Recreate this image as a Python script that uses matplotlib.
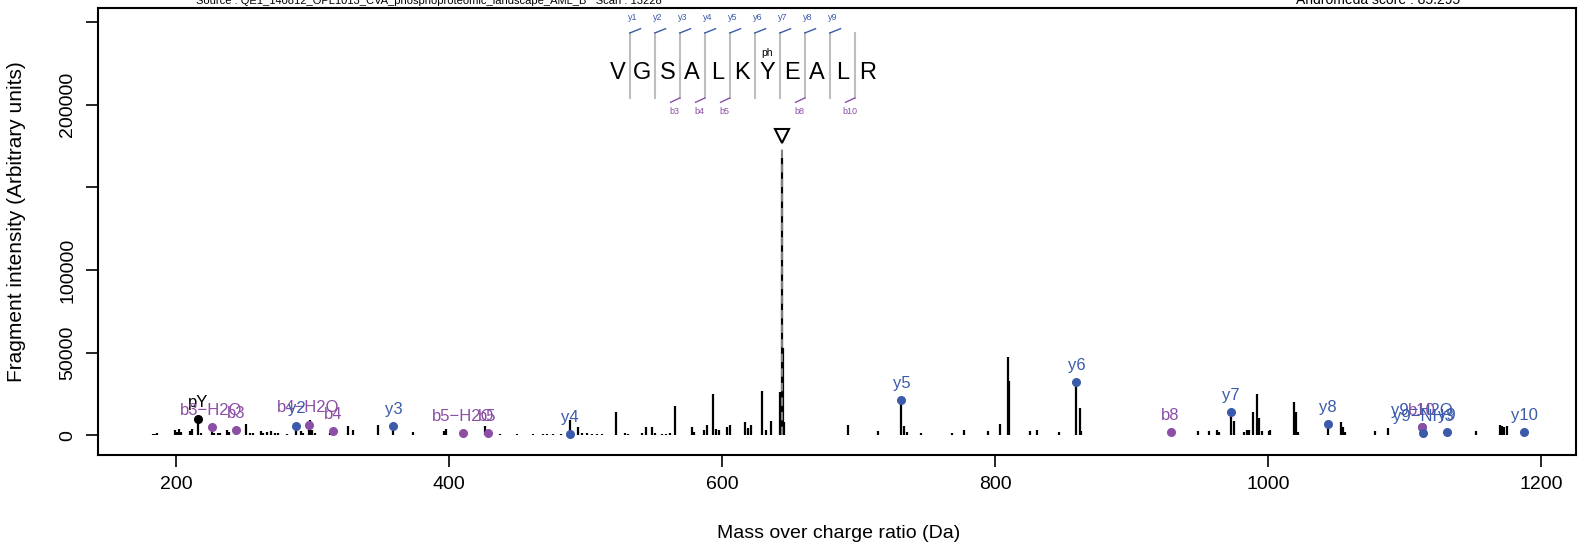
import matplotlib.pyplot as plt

plt.rcParams['font.family'] = ['Liberation Sans', 'DejaVu Sans']

# --- spectrum data (m/z, intensity) ---
peak_mz = [183.0, 184.5, 186.0, 199.5, 201.0, 202.5, 204.0, 210.0, 212.0, 218.0,
           228.0, 230.5, 232.0, 237.5, 239.0, 251.3, 254.0, 256.5, 262.0, 264.0,
           267.0, 269.5, 272.5, 275.0, 281.0, 291.5, 293.0, 298.2, 299.7, 301.5,
           313.0, 326.0, 329.5, 348.0, 373.3, 396.0, 398.0, 426.5, 429.5, 437.0,
           449.5, 461.5, 468.5, 472.0, 476.0, 482.0, 488.6, 494.5, 497.0, 501.0,
           504.5, 508.0, 512.0, 522.2, 529.0, 531.0, 541.0, 544.5, 548.5, 550.5,
           556.0, 558.5, 561.5, 565.4, 578.0, 579.5, 587.0, 589.0, 593.6, 595.5,
           597.5, 603.5, 605.7, 616.7, 619.0, 621.0, 628.9, 632.0, 635.5, 642.3,
           643.83, 644.33, 645.0, 692.0, 714.0, 733.5, 735.5, 745.4, 768.3, 776.8,
           794.4, 803.6, 809.3, 810.0, 825.7, 830.5, 846.5, 861.7, 862.5, 948.8,
           956.8, 962.2, 963.5, 974.7, 982.5, 984.0, 985.5, 989.0, 992.0, 993.0,
           995.0, 1000.3, 1001.5, 1018.8, 1020.4, 1021.5, 1053.1, 1054.6, 1056.0, 1078.4,
           1087.3, 1152.3, 1170.0, 1171.2, 1172.5, 1175.0]
peak_int = [900, 900, 1200, 3000, 2000, 3600, 2200, 2800, 4000, 1500,
            1500, 1200, 1500, 3300, 2000, 6700, 1500, 1200, 2500, 1500,
            2000, 2800, 1500, 1200, 1000, 2500, 1500, 9300, 3000, 1500,
            1500, 5700, 3000, 6300, 2000, 2500, 3600, 5700, 1500, 1000,
            1000, 1000, 800, 800, 800, 900, 9500, 5000, 1500, 1200,
            1000, 1000, 1000, 14000, 1500, 1000, 1500, 5300, 5300, 1200,
            1000, 1000, 1500, 17800, 5300, 2000, 3500, 6000, 24800, 4000,
            3500, 5000, 6000, 8400, 4500, 6500, 27000, 3500, 9000, 26000,
            167500, 53000, 8000, 6200, 2400, 5700, 2000, 1500, 1600, 3300,
            2500, 6700, 47200, 33000, 2500, 3300, 2200, 16400, 2500, 2900,
            2900, 3300, 2000, 9000, 2000, 3000, 3000, 14300, 25000, 10300,
            2500, 2500, 3000, 20000, 14000, 2000, 8300, 5000, 2000, 2400,
            4200, 2400, 6300, 5800, 5000, 5800]

# matched fragment ions
ion_labels = ['pY', 'b3−H2O', 'b3', 'b4−H2O', 'y2', 'b4', 'y3', 'b5−H2O', 'b5', 'y4',
              'y5', 'y6', 'b8', 'y7', 'y8', 'y9−H2O', 'b10', 'y9−NH3', 'y9', 'y10']
ion_mz = [216.04, 226.12, 244.13, 297.16, 288.20, 315.17, 359.24, 410.24, 428.25, 488.28,
          731.31, 859.41, 928.42, 972.49, 1043.53, 1112.55, 1112.54, 1113.53, 1130.56, 1187.58]
ion_int = [9900, 4900, 3300, 6500, 5900, 2800, 5700, 1300, 1600, 700,
           21300, 32200, 1800, 14000, 6700, 4900, 4900, 1200, 1800, 1800]
ion_type = ['imm', 'b', 'b', 'b', 'y', 'b', 'y', 'b', 'b', 'y',
            'y', 'y', 'b', 'y', 'y', 'y', 'b', 'y', 'y', 'y']

precursor_mz = 643.83
precursor_mark = 181000

sequence = ['V', 'G', 'S', 'A', 'L', 'K', 'Y', 'E', 'A', 'L', 'R']
phospho_site = 6
y_flag_after = [1, 2, 3, 4, 5, 6, 7, 8, 9]
y_flag_names = ['y1', 'y2', 'y3', 'y4', 'y5', 'y6', 'y7', 'y8', 'y9']
b_flag_after = [3, 4, 5, 8, 10]
b_flag_names = ['b3', 'b4', 'b5', 'b8', 'b10']

title_left = 'Source : QE1_140812_OPL1013_CVA_phosphoproteomic_landscape_AML_B   Scan : 13228'
title_right = 'Andromeda score : 85.295'

blue = '#3B5BAA'
purple = '#8B4FA5'
colmap = {'y': blue, 'b': purple, 'imm': 'black'}

W, H = 1578, 550
fig = plt.figure(figsize=(W / 100, H / 100), dpi=100)
ax = fig.add_axes([97.6 / W, 1 - 454.5 / H, (1576 - 97.6) / W, (454.5 - 8) / H])

ax.vlines(peak_mz, 0, peak_int, color='black', lw=1.6, zorder=2)
ax.vlines(ion_mz, 0, ion_int, color='black', lw=1.6, zorder=2)

# precursor marker
ax.vlines([precursor_mz], 0, precursor_mark - 5000, color='#808080', lw=1.5,
          linestyles=(0, (4, 3)), zorder=3)
ax.plot([precursor_mz], [precursor_mark], marker='v', ms=10, mfc='white',
        mec='black', mew=1.5, zorder=4)

for lab, x, y, t in zip(ion_labels, ion_mz, ion_int, ion_type):
    c = colmap[t]
    ax.plot([x], [y], 'o', color=c, ms=5.5, zorder=4)
    ax.annotate(lab, (x, y), xytext=(0, 12), textcoords='offset points',
                ha='center', va='center', color=c, fontsize=12, zorder=5)

ax.set_xlim(142.6, 1225.3)
ax.set_ylim(-11550, 258400)
ax.set_xticks([200, 400, 600, 800, 1000, 1200])
ax.set_yticks([0, 50000, 100000, 150000, 200000, 250000])
ax.set_yticklabels(['0', '50000', '100000', '', '200000', ''], rotation=90, va='center')
ax.tick_params(labelsize=14, length=8.5, width=1.2, pad=7)
for s in ax.spines.values():
    s.set_linewidth(1.5)

fig.text(839 / W, 1 - 534 / H, 'Mass over charge ratio (Da)', ha='center', va='center', fontsize=14)
fig.text(17 / W, 1 - 222 / H, 'Fragment intensity (Arbitrary units)', ha='center', va='center',
         rotation=90, fontsize=15)

fig.text(429 / W, 1 - 4 / H, title_left, ha='center', va='baseline', fontsize=8)
fig.text(1378 / W, 1 - 4 / H, title_right, ha='center', va='baseline', fontsize=10)

# peptide sequence panel, x in residue units
seq_ax = fig.add_axes([604.8 / W, 1 - 120 / H, 275 / W, 110 / H])
seq_ax.set_xlim(-0.5, 10.5)
seq_ax.set_ylim(120, 10)
seq_ax.axis('off')
for i, aa in enumerate(sequence):
    seq_ax.text(i, 73, aa, ha='center', va='center', fontsize=17)
    if i < len(sequence) - 1:
        seq_ax.plot([i + 0.5, i + 0.5], [32.7, 98.3], color='#BEBEBE', lw=1.5)
seq_ax.text(phospho_site, 53, 'ph', ha='center', va='center', fontsize=7.5)
for n, name in zip(y_flag_after, y_flag_names):
    x0 = n - 0.5
    seq_ax.plot([x0, x0 + 0.43], [33, 28.7], color=blue, lw=1)
    seq_ax.text(x0 + 0.1, 17.5, name, ha='center', va='center', fontsize=6.5, color=blue)
for n, name in zip(b_flag_after, b_flag_names):
    x0 = n - 0.5
    seq_ax.plot([x0, x0 - 0.37], [98, 102.3], color=purple, lw=1)
    seq_ax.text(x0 - 0.2, 112, name, ha='center', va='center', fontsize=6.5, color=purple)

fig.savefig('out.png', dpi=100)
